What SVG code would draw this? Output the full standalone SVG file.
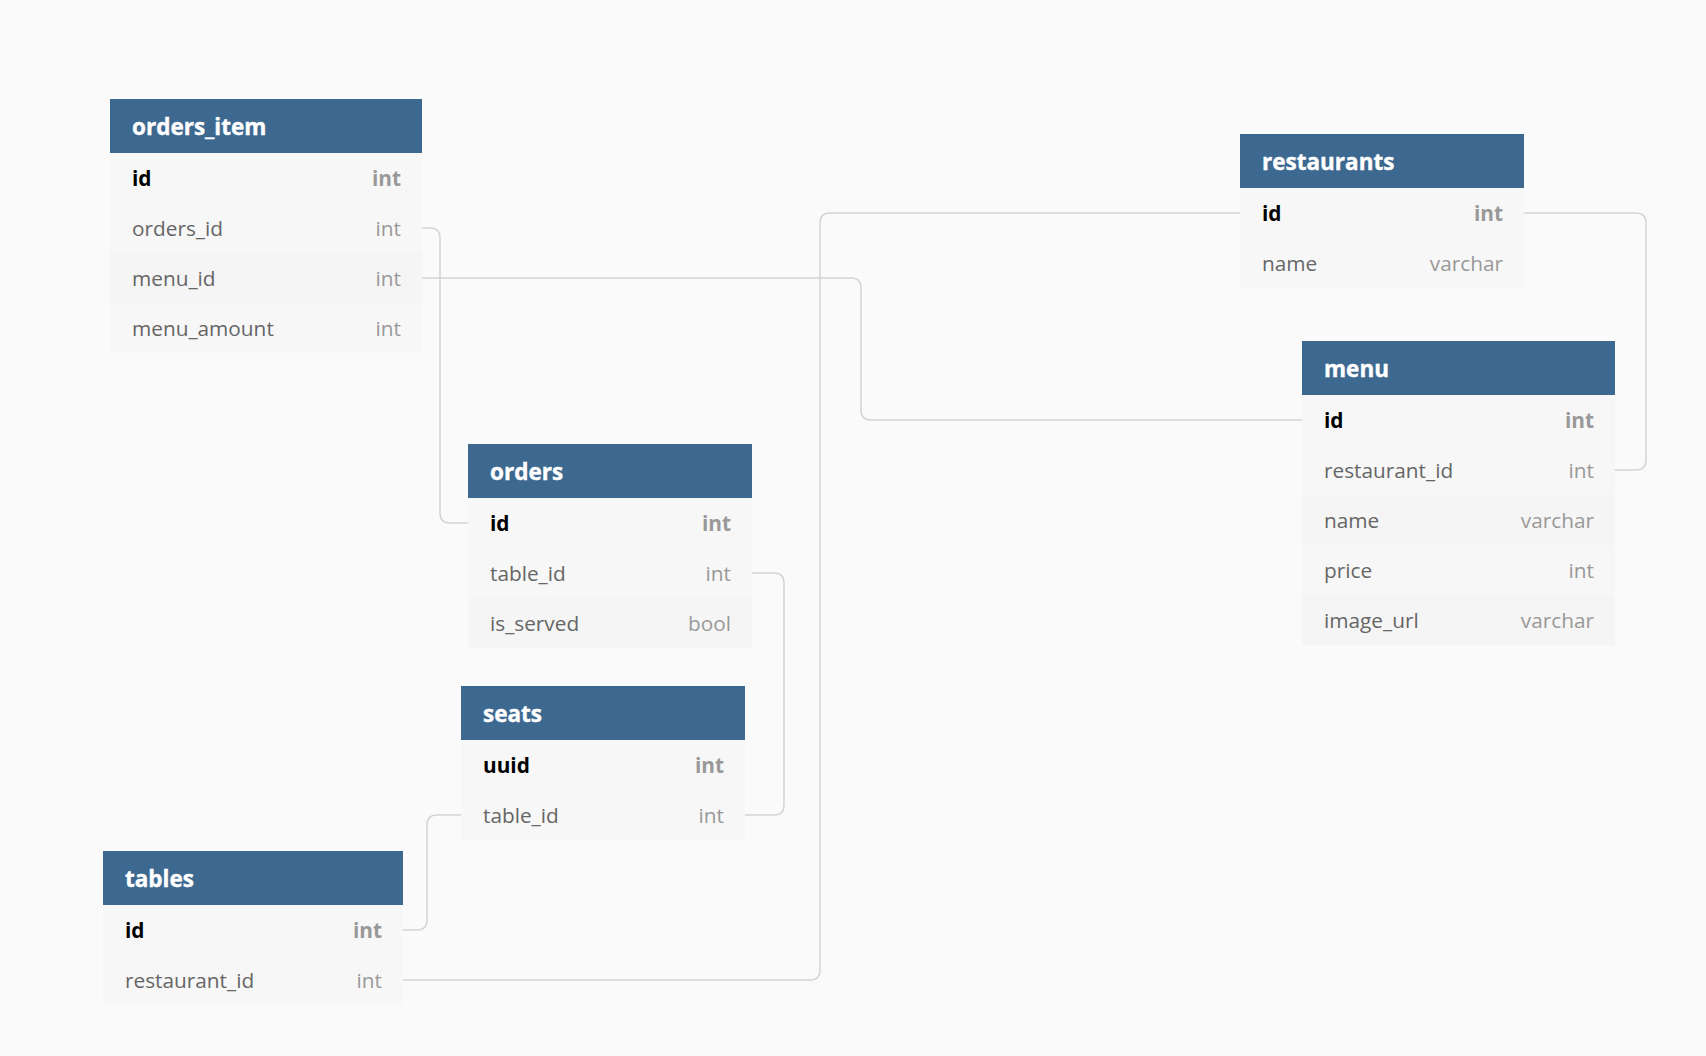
<svg xmlns="http://www.w3.org/2000/svg" width="1706" height="1056" viewBox="0 0 1706 1056">
<style>
.bg{fill:#fafafa}
.hd{fill:#3d6890}
.row{fill:#f7f7f7}
.row2{fill:#f5f5f5}
.title{font-family:"Open Sans","Noto Sans",sans-serif;font-size:22.5px;font-weight:700;fill:#ffffff;stroke:#ffffff;stroke-width:0.4}
.fn{font-family:"Open Sans","Noto Sans",sans-serif;font-size:20.8px;fill:#666666}
.fk{font-family:"Open Sans","Noto Sans",sans-serif;font-size:20.8px;font-weight:700;fill:#000000}
.ty{font-family:"Open Sans","Noto Sans",sans-serif;font-size:20.8px;fill:#999999;text-anchor:end}
.tyk{font-family:"Open Sans","Noto Sans",sans-serif;font-size:20.8px;font-weight:700;fill:#999999;text-anchor:end}
.conn path{fill:none;stroke:#d4d4d4;stroke-width:1.5}
</style>
<rect class="bg" x="0" y="0" width="1706" height="1056"/>

<g id="connectors" class="conn">
<path d="M422,228 H430 Q440,228 440,238 V513 Q440,523 450,523 H468"/>
<path d="M422,278 H851 Q861,278 861,288 V410 Q861,420 871,420 H1302"/>
<path d="M1240,213 H830 Q820,213 820,223 V970 Q820,980 810,980 H403"/>
<path d="M1524,213 H1636 Q1646,213 1646,223 V460 Q1646,470 1636,470 H1615"/>
<path d="M752,573 H774 Q784,573 784,583 V805 Q784,815 774,815 H745"/>
<path d="M461,815 H437 Q427,815 427,825 V920 Q427,930 417,930 H403"/>
</g>

<g id="orders_item">
<rect class="hd" x="110" y="99" width="312" height="54"/>
<text class="title" x="132" y="135">orders_item</text>
<rect class="row" x="110" y="153" width="312" height="50"/>
<rect class="row" x="110" y="203" width="312" height="50"/>
<rect class="row2" x="110" y="253" width="312" height="50"/>
<rect class="row" x="110" y="303" width="312" height="50"/>
<text class="fk" x="132" y="186">id</text><text class="tyk" x="401" y="186">int</text>
<text class="fn" x="132" y="236">orders_id</text><text class="ty" x="401" y="236">int</text>
<text class="fn" x="132" y="286">menu_id</text><text class="ty" x="401" y="286">int</text>
<text class="fn" x="132" y="336">menu_amount</text><text class="ty" x="401" y="336">int</text>
</g>

<g id="restaurants">
<rect class="hd" x="1240" y="134" width="284" height="54"/>
<text class="title" x="1262" y="170">restaurants</text>
<rect class="row" x="1240" y="188" width="284" height="50"/>
<rect class="row" x="1240" y="238" width="284" height="50"/>
<text class="fk" x="1262" y="221">id</text><text class="tyk" x="1503" y="221">int</text>
<text class="fn" x="1262" y="271">name</text><text class="ty" x="1503" y="271">varchar</text>
</g>

<g id="menu">
<rect class="hd" x="1302" y="341" width="313" height="54"/>
<text class="title" x="1324" y="377">menu</text>
<rect class="row" x="1302" y="395" width="313" height="50"/>
<rect class="row" x="1302" y="445" width="313" height="50"/>
<rect class="row2" x="1302" y="495" width="313" height="50"/>
<rect class="row" x="1302" y="545" width="313" height="50"/>
<rect class="row2" x="1302" y="595" width="313" height="50"/>
<text class="fk" x="1324" y="428">id</text><text class="tyk" x="1594" y="428">int</text>
<text class="fn" x="1324" y="478">restaurant_id</text><text class="ty" x="1594" y="478">int</text>
<text class="fn" x="1324" y="528">name</text><text class="ty" x="1594" y="528">varchar</text>
<text class="fn" x="1324" y="578">price</text><text class="ty" x="1594" y="578">int</text>
<text class="fn" x="1324" y="628">image_url</text><text class="ty" x="1594" y="628">varchar</text>
</g>

<g id="orders">
<rect class="hd" x="468" y="444" width="284" height="54"/>
<text class="title" x="490" y="480">orders</text>
<rect class="row" x="468" y="498" width="284" height="50"/>
<rect class="row" x="468" y="548" width="284" height="50"/>
<rect class="row2" x="468" y="598" width="284" height="50"/>
<text class="fk" x="490" y="531">id</text><text class="tyk" x="731" y="531">int</text>
<text class="fn" x="490" y="581">table_id</text><text class="ty" x="731" y="581">int</text>
<text class="fn" x="490" y="631">is_served</text><text class="ty" x="731" y="631">bool</text>
</g>

<g id="seats">
<rect class="hd" x="461" y="686" width="284" height="54"/>
<text class="title" x="483" y="722">seats</text>
<rect class="row" x="461" y="740" width="284" height="50"/>
<rect class="row" x="461" y="790" width="284" height="50"/>
<text class="fk" x="483" y="773">uuid</text><text class="tyk" x="724" y="773">int</text>
<text class="fn" x="483" y="823">table_id</text><text class="ty" x="724" y="823">int</text>
</g>

<g id="tables">
<rect class="hd" x="103" y="851" width="300" height="54"/>
<text class="title" x="125" y="887">tables</text>
<rect class="row" x="103" y="905" width="300" height="50"/>
<rect class="row" x="103" y="955" width="300" height="50"/>
<text class="fk" x="125" y="938">id</text><text class="tyk" x="382" y="938">int</text>
<text class="fn" x="125" y="988">restaurant_id</text><text class="ty" x="382" y="988">int</text>
</g>
</svg>
